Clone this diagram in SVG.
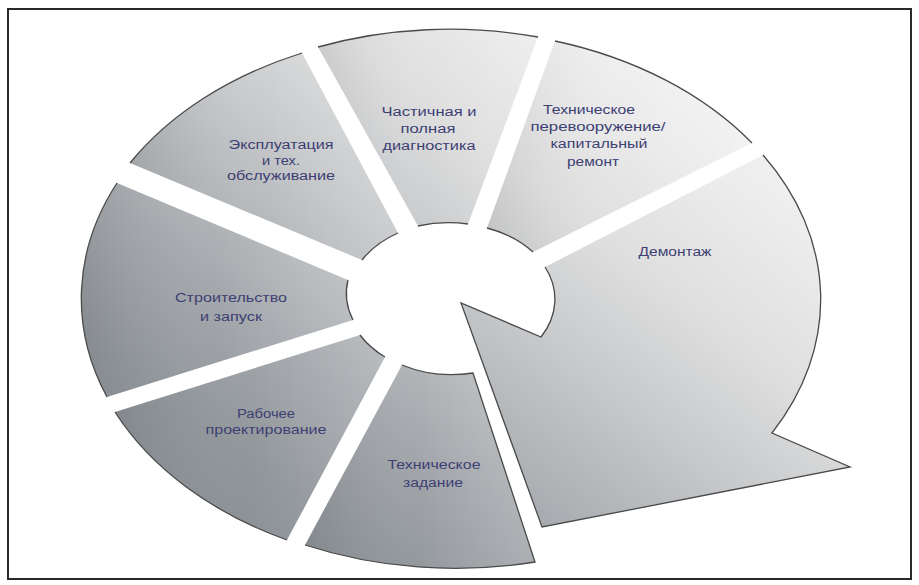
<svg xmlns="http://www.w3.org/2000/svg" width="919" height="585" viewBox="0 0 919 585">
  <defs>
    <linearGradient id="g" gradientUnits="userSpaceOnUse" x1="250" y1="560" x2="650" y2="40">
      <stop offset="0" stop-color="#8a9095"/>
      <stop offset="0.12" stop-color="#91969b"/>
      <stop offset="0.3" stop-color="#a5a9ad"/>
      <stop offset="0.55" stop-color="#c8cacc"/>
      <stop offset="0.72" stop-color="#dfdfdf"/>
      <stop offset="0.9" stop-color="#ececec"/>
      <stop offset="1" stop-color="#f2f2f2"/>
    </linearGradient>
    <linearGradient id="sh" x1="0" y1="0" x2="1" y2="0">
      <stop offset="0" stop-color="#000000" stop-opacity="0.07"/>
      <stop offset="0.5" stop-color="#ffffff" stop-opacity="0"/>
      <stop offset="1" stop-color="#ffffff" stop-opacity="0.12"/>
    </linearGradient>
  </defs>
  <style>
    .sec { fill: url(#g); stroke: none; }
    .shade { fill: url(#sh); stroke: none; }
    .edge { fill: none; stroke: #4a4a4a; stroke-width: 1.3; stroke-linejoin: miter; }
    .lbl { font-family: "Liberation Sans", Arial, sans-serif; font-size: 12.5px; fill: #3d3f73; text-anchor: middle; }
    .frame { fill: #ffffff; stroke: #2a2a2a; stroke-width: 2; }
  </style>
  <rect class="frame" x="8" y="9" width="903" height="570"/>

  <g id="node-ekspluatatsiya">
    <path class="sec" d="M362,260 L130,163 A369,269 0 0 1 302,53 L398,233 A102,75 0 0 0 362,260 Z"/>
    <path class="shade" d="M362,260 L130,163 A369,269 0 0 1 302,53 L398,233 A102,75 0 0 0 362,260 Z"/>
    <path class="edge" d="M130,163 A369,269 0 0 1 302,53"/>
    <path class="edge" d="M398,233 A102,75 0 0 0 362,260"/>
    <text class="lbl" x="281" y="148.5" textLength="105" lengthAdjust="spacingAndGlyphs">Эксплуатация</text>
    <text class="lbl" x="281" y="164.5" textLength="38" lengthAdjust="spacingAndGlyphs">и тех.</text>
    <text class="lbl" x="281" y="180" textLength="108" lengthAdjust="spacingAndGlyphs">обслуживание</text>
  </g>

  <g id="node-diagnostika">
    <path class="sec" d="M418,226 L318,47 A369,269 0 0 1 538,37 L468,224 A102,75 0 0 0 418,226 Z"/>
    <path class="shade" d="M418,226 L318,47 A369,269 0 0 1 538,37 L468,224 A102,75 0 0 0 418,226 Z"/>
    <path class="edge" d="M318,47 A369,269 0 0 1 538,37"/>
    <path class="edge" d="M468,224 A102,75 0 0 0 418,226"/>
    <text class="lbl" x="429" y="116" textLength="95" lengthAdjust="spacingAndGlyphs">Частичная и</text>
    <text class="lbl" x="428" y="133" textLength="55" lengthAdjust="spacingAndGlyphs">полная</text>
    <text class="lbl" x="429" y="149.5" textLength="93" lengthAdjust="spacingAndGlyphs">диагностика</text>
  </g>

  <g id="node-perevooruzhenie">
    <path class="sec" d="M487,228 L555,41 A369,269 0 0 1 752,143 L533,252 A102,75 0 0 0 487,228 Z"/>
    <path class="shade" d="M487,228 L555,41 A369,269 0 0 1 752,143 L533,252 A102,75 0 0 0 487,228 Z"/>
    <path class="edge" d="M555,41 A369,269 0 0 1 752,143"/>
    <path class="edge" d="M533,252 A102,75 0 0 0 487,228"/>
    <text class="lbl" x="589" y="114" textLength="92" lengthAdjust="spacingAndGlyphs">Техническое</text>
    <text class="lbl" x="598" y="131" textLength="135" lengthAdjust="spacingAndGlyphs">перевооружение/</text>
    <text class="lbl" x="599" y="148" textLength="97" lengthAdjust="spacingAndGlyphs">капитальный</text>
    <text class="lbl" x="593" y="166" textLength="52" lengthAdjust="spacingAndGlyphs">ремонт</text>
  </g>

  <g id="node-demontazh">
    <path class="sec" d="M545,267 L763,155 A369,269 0 0 1 772,433 L850,467 L542,527 L461,303 L541,337 A102,75 0 0 0 545,267 Z"/>
    <path class="edge" d="M763,155 A369,269 0 0 1 772,433 L850,467 L542,527 L461,303 L541,337 A102,75 0 0 0 545,267"/>
    <text class="lbl" x="675" y="256" textLength="73" lengthAdjust="spacingAndGlyphs">Демонтаж</text>
  </g>

  <g id="node-tekhzadanie">
    <path class="sec" d="M402,365 L305,545 A369,269 0 0 0 535,562 L473,373 A102,75 0 0 1 402,365 Z"/>
    <path class="shade" d="M402,365 L305,545 A369,269 0 0 0 535,562 L473,373 A102,75 0 0 1 402,365 Z"/>
    <path class="edge" d="M305,545 A369,269 0 0 0 535,562 L473,373 A102,75 0 0 1 402,365"/>
    <text class="lbl" x="434" y="469" textLength="93" lengthAdjust="spacingAndGlyphs">Техническое</text>
    <text class="lbl" x="433" y="487" textLength="60" lengthAdjust="spacingAndGlyphs">задание</text>
  </g>

  <g id="node-proektirovanie">
    <path class="sec" d="M385,357 L287,540 A369,269 0 0 1 115,412 L360,335 A102,75 0 0 0 385,357 Z"/>
    <path class="shade" d="M385,357 L287,540 A369,269 0 0 1 115,412 L360,335 A102,75 0 0 0 385,357 Z"/>
    <path class="edge" d="M287,540 A369,269 0 0 1 115,412"/>
    <path class="edge" d="M360,335 A102,75 0 0 0 385,357"/>
    <text class="lbl" x="266" y="417.5" textLength="58" lengthAdjust="spacingAndGlyphs">Рабочее</text>
    <text class="lbl" x="266" y="434" textLength="121" lengthAdjust="spacingAndGlyphs">проектирование</text>
  </g>

  <g id="node-stroitelstvo">
    <path class="sec" d="M353,320 L107,397 A369,269 0 0 1 117,183 L348,280 A102,75 0 0 0 353,320 Z"/>
    <path class="shade" d="M353,320 L107,397 A369,269 0 0 1 117,183 L348,280 A102,75 0 0 0 353,320 Z"/>
    <path class="edge" d="M107,397 A369,269 0 0 1 117,183"/>
    <path class="edge" d="M348,280 A102,75 0 0 0 353,320"/>
    <text class="lbl" x="231" y="302" textLength="112" lengthAdjust="spacingAndGlyphs">Строительство</text>
    <text class="lbl" x="231" y="321" textLength="62" lengthAdjust="spacingAndGlyphs">и запуск</text>
  </g>

  <g id="connectors"/>
</svg>
